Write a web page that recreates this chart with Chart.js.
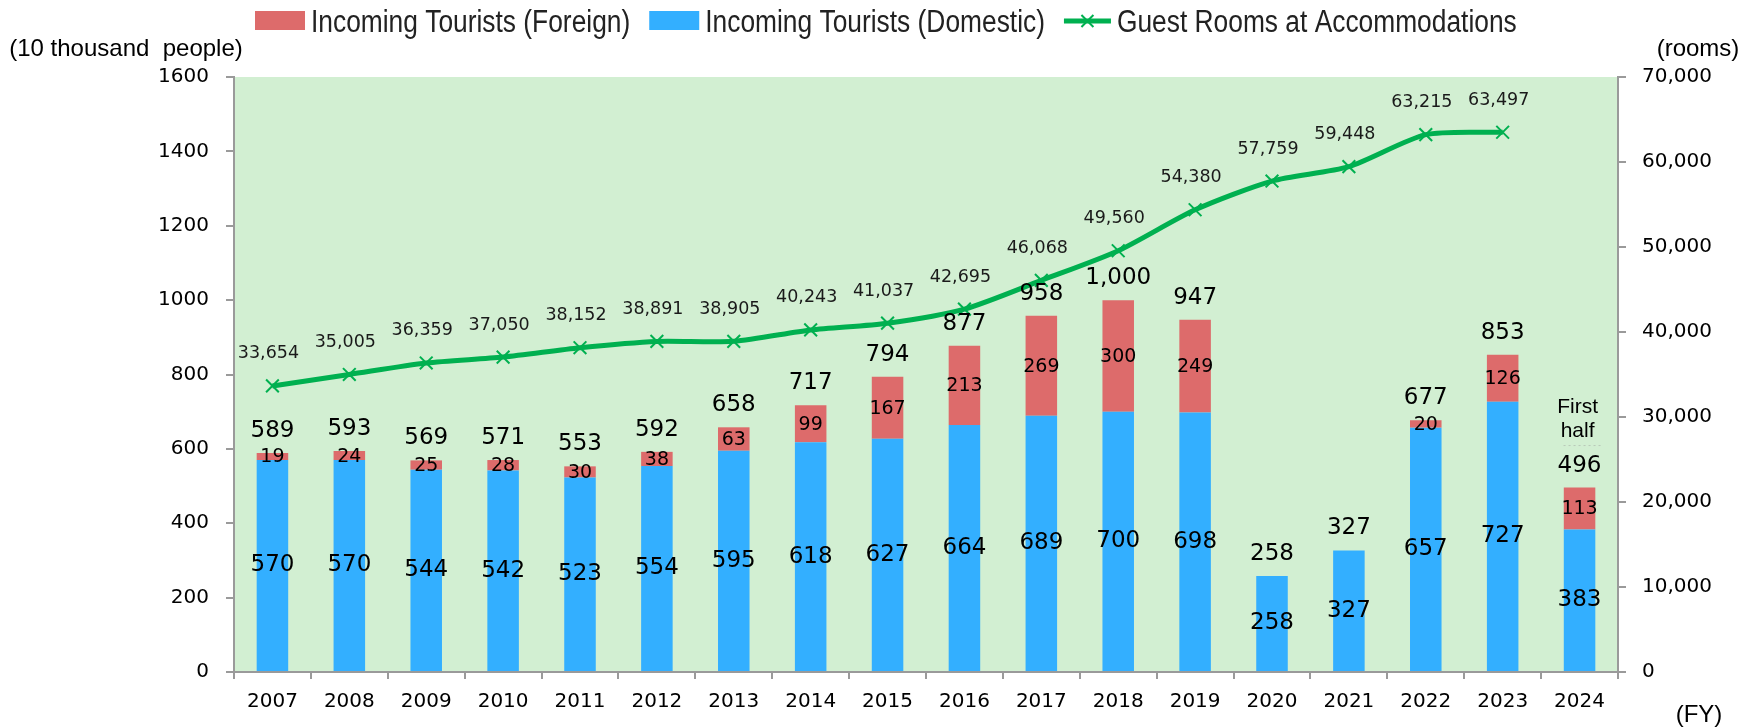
<!DOCTYPE html>
<html>
<head>
<meta charset="utf-8">
<script src="https://cdn.jsdelivr.net/npm/chart.js@4.4.1/dist/chart.umd.min.js"></script>
<style>
html,body{margin:0;padding:0;background:#ffffff;}
#wrap{width:1756px;height:728px;position:relative;}
</style>
</head>
<body>
<div id="wrap"><canvas id="c" width="1756" height="728"></canvas></div>
<script>
// ---- data ----
const years = ['2007','2008','2009','2010','2011','2012','2013','2014','2015','2016','2017','2018','2019','2020','2021','2022','2023','2024'];
const domestic = [570,570,544,542,523,554,595,618,627,664,689,700,698,258,327,657,727,383];
const foreign = [19,24,25,28,30,38,63,99,167,213,269,300,249,null,null,20,126,113];
const totals = [589,593,569,571,553,592,658,717,794,877,958,1000,947,258,327,677,853,496];
const rooms = [33654,35005,36359,37050,38152,38891,38905,40243,41037,42695,46068,49560,54380,57759,59448,63215,63497,null];
const seriesNames = ['Incoming Tourists (Foreign)','Incoming Tourists (Domestic)','Guest Rooms at Accommodations'];
const leftAxisTitle = '(10 thousand  people)';
const rightAxisTitle = '(rooms)';
const xAxisTitle = '(FY)';
const partialNote = ['First','half'];

const C_FOREIGN = '#DD6B6B';
const C_DOMESTIC = '#33AFFF';
const C_LINE = '#00B050';
const C_PLOT = '#D2EFD2';
const C_AXIS = '#9A9A9A';
const fmt = v => v.toLocaleString('en-US');

const plotBg = {
  id:'plotBg',
  beforeDraw(chart){
    const {ctx, chartArea:a} = chart;
    ctx.save();
    ctx.fillStyle = C_PLOT;
    ctx.fillRect(a.left, a.top, a.right-a.left, a.bottom-a.top);
    ctx.restore();
  }
};

const labelsPlugin = {
  id:'labelsPlugin',
  afterDatasetsDraw(chart){
    const ctx = chart.ctx;
    const mLine = chart.getDatasetMeta(0);
    const mDom = chart.getDatasetMeta(1);
    const mFor = chart.getDatasetMeta(2);
    ctx.save();
    ctx.fillStyle = '#000';
    ctx.textAlign = 'center';
    ctx.textBaseline = 'middle';
    years.forEach((y,i)=>{
      const d = mDom.data[i];
      ctx.font = '23px "DejaVu Sans"';
      ctx.fillText(fmt(domestic[i]), d.x, (d.y + d.base)/2);
      let top = d.y;
      if (foreign[i] != null) {
        const f = mFor.data[i];
        ctx.font = '19px "DejaVu Sans"';
        ctx.fillText(fmt(foreign[i]), f.x, (f.y + f.base)/2 + 1);
        top = f.y;
      }
      ctx.font = '23px "DejaVu Sans"';
      ctx.fillText(fmt(totals[i]), d.x, top - 22);
      if (i === years.length-1) {
        ctx.font = '21px "Liberation Sans"';
        ctx.fillText(partialNote[0], d.x - 2, top - 80);
        ctx.fillText(partialNote[1], d.x - 2, top - 56);
        ctx.strokeStyle = '#b8c8b8';
        ctx.lineWidth = 1;
        ctx.setLineDash([2,3]);
        ctx.beginPath();
        ctx.moveTo(d.x - 16, top - 42);
        ctx.lineTo(d.x + 22, top - 42);
        ctx.stroke();
        ctx.setLineDash([]);
      }
      if (rooms[i] != null) {
        const p = mLine.data[i];
        ctx.font = '17.5px "DejaVu Sans"';
        ctx.fillStyle = '#1a1a1a';
        ctx.fillText(fmt(rooms[i]), p.x - 4, p.y - 32);
        ctx.fillStyle = '#000';
      }
    });
    ctx.restore();
  }
};

const legendAndTitles = {
  id:'legendAndTitles',
  afterDraw(chart){
    const ctx = chart.ctx;
    ctx.save();
    const items = [
      {text:seriesNames[0], kind:'box', color:C_FOREIGN},
      {text:seriesNames[1], kind:'box', color:C_DOMESTIC},
      {text:seriesNames[2], kind:'line', color:C_LINE}
    ];
    let x = 255;
    const yc = 21;
    ctx.font = '31px "Liberation Sans"';
    ctx.textBaseline = 'alphabetic';
    ctx.textAlign = 'left';
    items.forEach(it=>{
      if (it.kind === 'box') {
        ctx.fillStyle = it.color;
        ctx.fillRect(x, 11, 50, 19);
        x += 56;
      } else {
        ctx.strokeStyle = it.color;
        ctx.lineWidth = 5;
        ctx.beginPath(); ctx.moveTo(x, yc); ctx.lineTo(x+47, yc); ctx.stroke();
        ctx.lineWidth = 2;
        const r = 6;
        ctx.beginPath();
        ctx.moveTo(x+23.5-r, yc-r); ctx.lineTo(x+23.5+r, yc+r);
        ctx.moveTo(x+23.5-r, yc+r); ctx.lineTo(x+23.5+r, yc-r);
        ctx.stroke();
        x += 53;
      }
      ctx.fillStyle = '#222';
      ctx.save();
      ctx.translate(x, 32);
      ctx.scale(0.85, 1);
      ctx.fillText(it.text, 0, 0);
      ctx.restore();
      x += ctx.measureText(it.text).width * 0.85 + 19;
    });
    ctx.fillStyle = '#000';
    ctx.font = '24px "Liberation Sans"';
    ctx.textAlign = 'center';
    ctx.textBaseline = 'middle';
    ctx.fillText(leftAxisTitle, 126, 49);
    ctx.fillText(rightAxisTitle, 1698, 49);
    ctx.fillText(xAxisTitle, 1699, 715);
    ctx.restore();
  }
};

const tickFont = {family:'DejaVu Sans', size:20};

new Chart(document.getElementById('c').getContext('2d'), {
  type:'bar',
  data:{
    labels:years,
    datasets:[
      {type:'line', label:seriesNames[2], data:rooms, yAxisID:'y1', order:0,
       borderColor:C_LINE, backgroundColor:C_LINE, borderWidth:5, tension:0.25,
       pointStyle:'crossRot', pointRadius:9, pointBorderWidth:2, pointBorderColor:C_LINE, pointBackgroundColor:C_LINE,
       spanGaps:false},
      {label:seriesNames[1], data:domestic, yAxisID:'y', stack:'s', order:1,
       backgroundColor:C_DOMESTIC, barPercentage:0.41, categoryPercentage:1},
      {label:seriesNames[0], data:foreign, yAxisID:'y', stack:'s', order:1,
       backgroundColor:C_FOREIGN, barPercentage:0.41, categoryPercentage:1}
    ]
  },
  options:{
    responsive:false,
    animation:false,
    devicePixelRatio:1,
    layout:{padding:{top:77,left:0,right:0,bottom:0}},
    plugins:{legend:{display:false}, tooltip:{enabled:false}, title:{display:false}},
    scales:{
      x:{
        stacked:true,
        offset:true,
        grid:{display:true, drawOnChartArea:false, drawTicks:true, tickLength:7, color:C_AXIS, lineWidth:2, offset:true},
        border:{display:true, color:C_AXIS, width:2},
        ticks:{font:tickFont, color:'#000', padding:11, maxRotation:0, autoSkip:false},
        afterFit(s){ s.height = 56; }
      },
      y:{
        stacked:true, position:'left', min:0, max:1600,
        grid:{display:true, drawOnChartArea:false, drawTicks:true, tickLength:8, color:C_AXIS, lineWidth:2},
        border:{display:true, color:C_AXIS, width:2},
        ticks:{stepSize:200, font:tickFont, color:'#000', padding:17, callback:v=>String(v)},
        afterFit(s){ s.width = 234; }
      },
      y1:{
        position:'right', min:0, max:70000,
        grid:{display:true, drawOnChartArea:false, drawTicks:true, tickLength:8, color:C_AXIS, lineWidth:2},
        border:{display:true, color:C_AXIS, width:2},
        ticks:{stepSize:10000, font:tickFont, color:'#000', padding:16, callback:v=>fmt(v)},
        afterFit(s){ s.width = 138; }
      }
    }
  },
  plugins:[plotBg, labelsPlugin, legendAndTitles]
});
</script>
</body>
</html>
